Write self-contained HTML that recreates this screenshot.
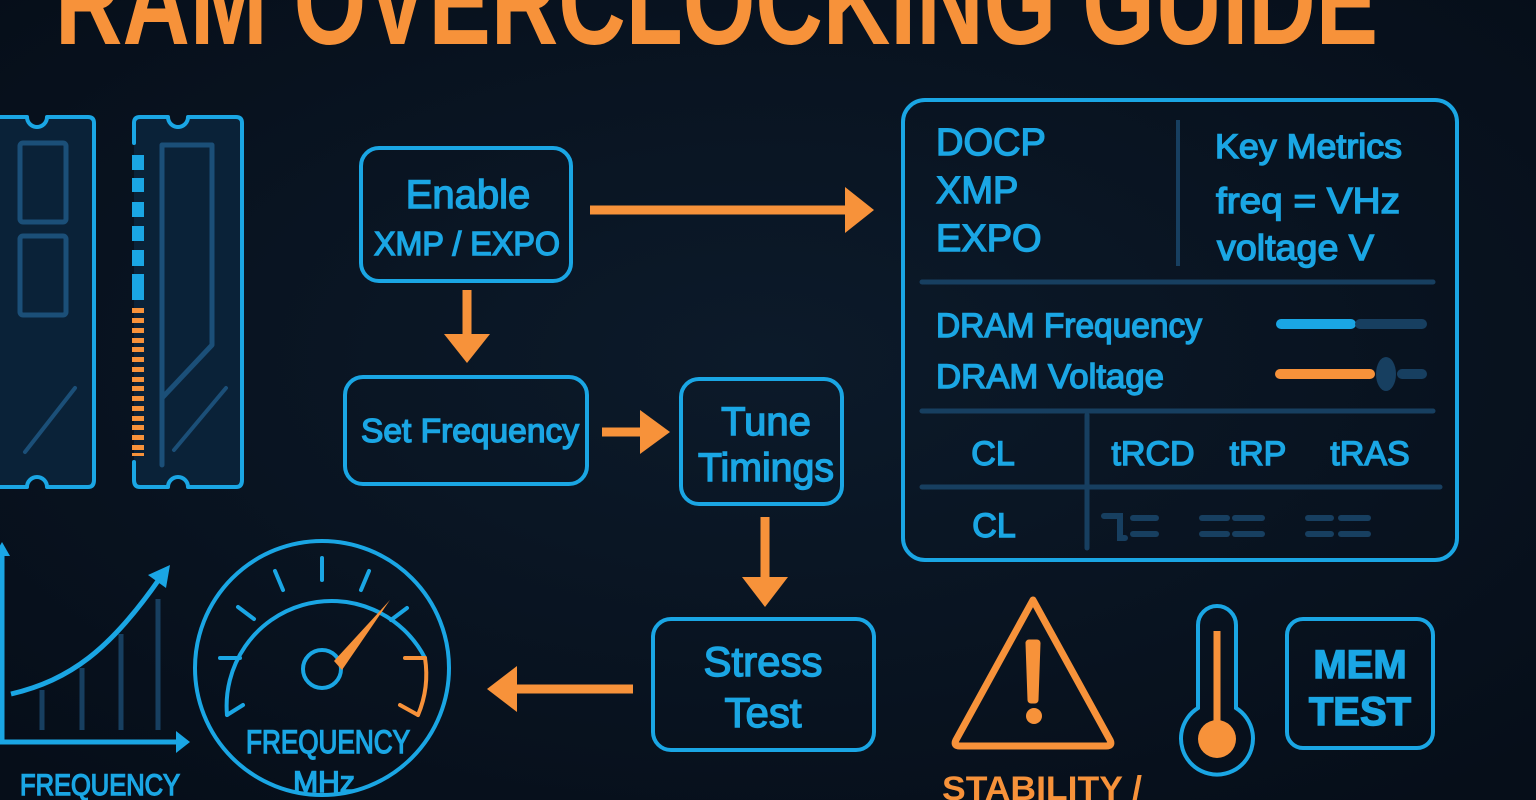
<!DOCTYPE html>
<html><head><meta charset="utf-8"><style>
html,body{margin:0;padding:0;background:#08121f;}
svg{display:block}
text{font-family:"Liberation Sans",sans-serif;}
.b{fill:#1aa6e4;stroke:#1aa6e4;stroke-width:1.4}
.o{fill:#f7923a}
</style></head><body>
<svg width="1536" height="800" viewBox="0 0 1536 800" xmlns="http://www.w3.org/2000/svg">
<defs>
<radialGradient id="bg" cx="50%" cy="45%" r="70%"><stop offset="0" stop-color="#0c1a2a"/><stop offset="1" stop-color="#060e19"/></radialGradient>
</defs>
<rect width="1536" height="800" fill="url(#bg)"/>
<!-- title -->
<text x="55" y="44" font-size="124" font-weight="bold" fill="#f7923a" textLength="1323" lengthAdjust="spacingAndGlyphs">RAM OVERCLOCKING GUIDE</text>

<g fill="none" stroke-linecap="round" stroke-linejoin="round">
<path d="M-2 117 H27 A10 10 0 0 0 47 117 H88 Q94 117 94 123 V480 Q94 487 88 487 H47 A10 10 0 0 0 27 487 H-2" fill="#0a2238" stroke="#1aa6e4" stroke-width="4"/>
<rect x="20" y="143" width="46" height="79" rx="3" stroke="#1b4f78" stroke-width="5"/>
<rect x="20" y="236" width="46" height="79" rx="3" stroke="#1b4f78" stroke-width="5"/>
<line x1="75" y1="388" x2="25" y2="452" stroke="#1b4f78" stroke-width="4"/>
<path d="M134 143 V123 Q134 117 140 117 H168 A10 10 0 0 0 188 117 H236 Q242 117 242 123 V480 Q242 487 236 487 H188 A10 10 0 0 0 168 487 H140 Q134 487 134 480 V462" fill="#0a2238" stroke="#1aa6e4" stroke-width="4"/>
<path d="M162 465 V145 H212 V345 L162 398" stroke="#1b4f78" stroke-width="5"/>
<line x1="226" y1="388" x2="174" y2="450" stroke="#1b4f78" stroke-width="4"/>
</g>
<g fill="#1aa6e4">
<rect x="132" y="155" width="12" height="15"/><rect x="132" y="178" width="12" height="14"/><rect x="132" y="202" width="12" height="15"/><rect x="132" y="226" width="12" height="15"/><rect x="132" y="250" width="12" height="16"/><rect x="132" y="274" width="12" height="26"/>
</g>
<g fill="#f7923a">
<rect x="132" y="308" width="12" height="5"/><rect x="132" y="318" width="12" height="5"/><rect x="132" y="328" width="12" height="5"/><rect x="132" y="338" width="12" height="5"/><rect x="132" y="347" width="12" height="5"/><rect x="132" y="357" width="12" height="5"/><rect x="132" y="367" width="12" height="5"/><rect x="132" y="377" width="12" height="5"/><rect x="132" y="386" width="12" height="5"/><rect x="132" y="396" width="12" height="5"/><rect x="132" y="406" width="12" height="5"/><rect x="132" y="416" width="12" height="5"/><rect x="132" y="425" width="12" height="5"/><rect x="132" y="435" width="12" height="5"/><rect x="132" y="445" width="12" height="5"/><rect x="132" y="453" width="12" height="3"/>
</g>

<g fill="none" stroke="#1aa6e4" stroke-width="4">
<rect x="361" y="148" width="210" height="133" rx="18"/>
<rect x="345" y="377" width="242" height="107" rx="18"/>
<rect x="681" y="379" width="161" height="125" rx="18"/>
<rect x="653" y="619" width="221" height="131" rx="18"/>
<rect x="903" y="100" width="554" height="460" rx="22"/>
<rect x="1287" y="619" width="146" height="129" rx="16"/>
</g>
<text x="468" y="208" font-size="40" class="b" text-anchor="middle">Enable</text>
<text x="467" y="255" font-size="33" class="b" text-anchor="middle" textLength="186" lengthAdjust="spacingAndGlyphs">XMP / EXPO</text>
<text x="470" y="442" font-size="33" class="b" text-anchor="middle" textLength="218" lengthAdjust="spacingAndGlyphs">Set Frequency</text>
<text x="766" y="435" font-size="40" class="b" text-anchor="middle">Tune</text>
<text x="766" y="481" font-size="40" class="b" text-anchor="middle" textLength="136" lengthAdjust="spacingAndGlyphs">Timings</text>
<text x="763" y="676" font-size="42" class="b" text-anchor="middle">Stress</text>
<text x="763" y="727" font-size="42" class="b" text-anchor="middle">Test</text>

<g stroke="#f7923a" stroke-width="9" fill="#f7923a">
<line x1="590" y1="210" x2="848" y2="210"/><polygon points="845,187 874,210 845,233" stroke="none"/>
<line x1="467" y1="290" x2="467" y2="337"/><polygon points="444,334 467,363 490,334" stroke="none"/>
<line x1="602" y1="432" x2="643" y2="432"/><polygon points="640,410 670,432 640,454" stroke="none"/>
<line x1="765" y1="517" x2="765" y2="580"/><polygon points="742,577 765,607 788,577" stroke="none"/>
<line x1="633" y1="689" x2="514" y2="689"/><polygon points="517,666 487,689 517,712" stroke="none"/>
</g>

<line x1="1178" y1="120" x2="1178" y2="266" stroke="#173f60" stroke-width="4"/>
<g stroke="#173f60" stroke-width="5" stroke-linecap="round">
<line x1="922" y1="282" x2="1433" y2="282"/>
<line x1="922" y1="411" x2="1433" y2="411"/>
<line x1="922" y1="487" x2="1440" y2="487"/>
<line x1="1087" y1="415" x2="1087" y2="548"/>
</g>
<text x="936" y="155" font-size="38" class="b">DOCP</text>
<text x="936" y="203" font-size="38" class="b">XMP</text>
<text x="936" y="251" font-size="38" class="b">EXPO</text>
<text x="1215" y="158" font-size="34" class="b" textLength="187" lengthAdjust="spacingAndGlyphs">Key Metrics</text>
<text x="1216" y="213" font-size="36" class="b" textLength="184" lengthAdjust="spacingAndGlyphs">freq = VHz</text>
<text x="1217" y="260" font-size="36" class="b" textLength="157" lengthAdjust="spacingAndGlyphs">voltage V</text>
<text x="936" y="337" font-size="34" class="b" textLength="266" lengthAdjust="spacingAndGlyphs">DRAM Frequency</text>
<text x="936" y="388" font-size="34" class="b" textLength="228" lengthAdjust="spacingAndGlyphs">DRAM Voltage</text>
<g stroke-linecap="round" stroke-width="10">
<line x1="1281" y1="324" x2="1351" y2="324" stroke="#1aa6e4"/>
<line x1="1360" y1="324" x2="1422" y2="324" stroke="#173f60"/>
<line x1="1280" y1="374" x2="1370" y2="374" stroke="#f7923a"/>
<line x1="1402" y1="374" x2="1422" y2="374" stroke="#173f60"/>
</g>
<ellipse cx="1386" cy="374" rx="10" ry="17" fill="#173f60"/>
<text x="993" y="465" font-size="34" class="b" text-anchor="middle">CL</text>
<text x="1153" y="465" font-size="34" class="b" text-anchor="middle">tRCD</text>
<text x="1258" y="465" font-size="34" class="b" text-anchor="middle">tRP</text>
<text x="1370" y="465" font-size="34" class="b" text-anchor="middle">tRAS</text>
<text x="994" y="537" font-size="34" class="b" text-anchor="middle">CL</text>
<g stroke="#173f60" stroke-width="6" stroke-linecap="round">
<path d="M1104 516 H1120 V538 H1125" fill="none"/>
<line x1="1133" y1="518" x2="1156" y2="518"/><line x1="1133" y1="534" x2="1156" y2="534"/>
<line x1="1202" y1="518" x2="1227" y2="518"/><line x1="1235" y1="518" x2="1262" y2="518"/>
<line x1="1202" y1="534" x2="1227" y2="534"/><line x1="1235" y1="534" x2="1262" y2="534"/>
<line x1="1308" y1="518" x2="1331" y2="518"/><line x1="1341" y1="518" x2="1368" y2="518"/>
<line x1="1308" y1="534" x2="1331" y2="534"/><line x1="1341" y1="534" x2="1368" y2="534"/>
</g>

<g stroke="#173f60" stroke-width="5">
<line x1="42" y1="690" x2="42" y2="730"/><line x1="82" y1="668" x2="82" y2="730"/>
<line x1="121" y1="634" x2="121" y2="730"/><line x1="158" y1="599" x2="158" y2="730"/>
</g>
<g stroke="#1aa6e4" stroke-width="5" fill="none">
<path d="M2 547 V742 H178"/>
<path d="M11 694 C70 680 110 650 160 578"/>
</g>
<polygon points="176,731 190,742 176,753" fill="#1aa6e4"/>
<polygon points="-6,556 2,542 10,556" fill="#1aa6e4"/>
<polygon points="148,575 170,565 166,588" fill="#1aa6e4"/>
<text x="100" y="795" font-size="30" class="b" text-anchor="middle" textLength="160" lengthAdjust="spacingAndGlyphs">FREQUENCY</text>

<g fill="none" stroke="#1aa6e4" stroke-width="4" stroke-linecap="round">
<circle cx="322" cy="668" r="127"/>
<path d="M227 715 A105 105 0 0 1 425 658"/>
<circle cx="322" cy="669" r="19"/>
<line x1="220" y1="658" x2="240" y2="658"/>
<line x1="238" y1="607" x2="254" y2="619"/>
<line x1="275" y1="571" x2="283" y2="590"/>
<line x1="322" y1="558" x2="322" y2="580"/>
<line x1="369" y1="571" x2="361" y2="590"/>
<line x1="407" y1="608" x2="391" y2="620"/>
<line x1="227" y1="715" x2="243" y2="705"/>
</g>
<g fill="none" stroke="#f7923a" stroke-width="4" stroke-linecap="round">
<path d="M425 658 A105 105 0 0 1 418 715"/>
<line x1="405" y1="658" x2="425" y2="658"/>
<line x1="400" y1="705" x2="418" y2="715"/>
</g>
<polygon points="334,661 342,670 390,600" fill="#f7923a"/>
<text x="328" y="753" font-size="32" class="b" text-anchor="middle" textLength="164" lengthAdjust="spacingAndGlyphs">FREQUENCY</text>
<text x="324" y="792" font-size="30" class="b" text-anchor="middle">MHz</text>

<path d="M1033 600 L1110 740 Q1113 746 1106 746 L960 746 Q953 746 956 740 Z" fill="none" stroke="#f7923a" stroke-width="7" stroke-linejoin="round"/>
<path d="M1029 643 L1037 643 L1035 700 L1031 700 Z" fill="#f7923a" stroke="#f7923a" stroke-width="7" stroke-linejoin="round"/>
<circle cx="1034" cy="716" r="8" fill="#f7923a"/>
<text x="942" y="800" font-size="34" class="o" font-weight="bold" textLength="200" lengthAdjust="spacingAndGlyphs">STABILITY /</text>

<path d="M1198 708 V625 A19 19 0 0 1 1236 625 V708 A36 36 0 1 1 1198 708 Z" fill="none" stroke="#1aa6e4" stroke-width="4"/>
<line x1="1217" y1="631" x2="1217" y2="725" stroke="#f7923a" stroke-width="7"/>
<circle cx="1217" cy="739" r="19" fill="#f7923a"/>

<text x="1360" y="678" font-size="40" class="b" font-weight="bold" text-anchor="middle">MEM</text>
<text x="1360" y="725" font-size="40" class="b" font-weight="bold" text-anchor="middle">TEST</text>
</svg>
</body></html>
